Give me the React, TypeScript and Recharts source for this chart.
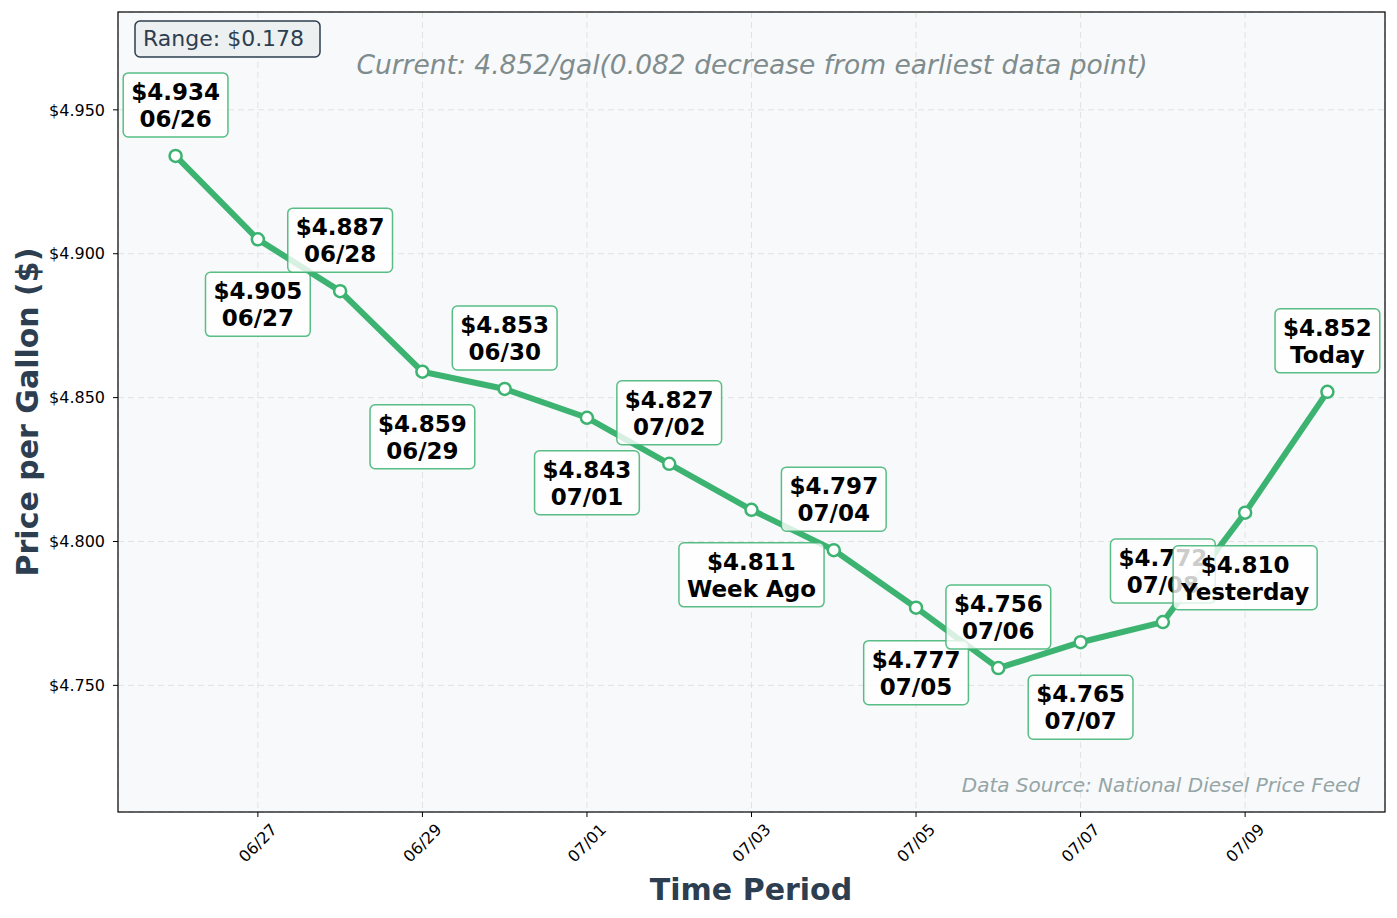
import { LineChart, Line, XAxis, YAxis, CartesianGrid } from 'recharts';

const dates = ['06/26', '06/27', '06/28', '06/29', '06/30', '07/01', '07/02', '07/03', '07/04', '07/05', '07/06', '07/07', '07/08', '07/09', '07/10'];
const prices = [4.934, 4.905, 4.887, 4.859, 4.853, 4.843, 4.827, 4.811, 4.797, 4.777, 4.756, 4.765, 4.772, 4.810, 4.852];
const pointNames = ['06/26', '06/27', '06/28', '06/29', '06/30', '07/01', '07/02', 'Week Ago', '07/04', '07/05', '07/06', '07/07', '07/08', 'Yesterday', 'Today'];
const xTicks = [1, 3, 5, 7, 9, 11, 13];
const yTicks = [4.75, 4.8, 4.85, 4.9, 4.95];

const data = prices.map((price, i) => ({ day: i, price, date: dates[i], name: pointNames[i] }));

const W = 1397;
const H = 918;
const PLOT = { left: 118, top: 12, right: 1385, bottom: 812 };
const GREEN = '#3cb371';
const FONT = 'DejaVu Sans';

const first = prices[0];
const last = prices[prices.length - 1];
const range = Math.max(...prices) - Math.min(...prices);
const change = last - first;

let measureCtx: CanvasRenderingContext2D | null = null;
function textWidth(s: string, font: string) {
  if (!measureCtx) measureCtx = document.createElement('canvas').getContext('2d');
  if (!measureCtx) return s.length * 14;
  measureCtx.font = font;
  return measureCtx.measureText(s).width;
}

const Marker = (props: any) => {
  const { cx, cy, index } = props;
  return <circle key={`m${index}`} cx={cx} cy={cy} r={6} fill="#fff" stroke={GREEN} strokeWidth={2.5} />;
};

// value/date callout boxes, alternating above and below the points
const Callout = (props: any) => {
  const { cx, cy, index } = props;
  const line1 = `$${prices[index].toFixed(3)}`;
  const line2 = pointNames[index];
  const size = 23;
  const font = `bold ${size}px "${FONT}"`;
  const w = Math.max(textWidth(line1, font), textWidth(line2, font)) + 16;
  const h = 64;
  const centerY = index % 2 === 0 ? cy - 51 : cy + 65;
  return (
    <g key={`c${index}`}>
      <rect x={cx - w / 2} y={centerY - h / 2} width={w} height={h} rx={5} fill="#fff" fillOpacity={0.8} stroke={GREEN} strokeOpacity={0.85} strokeWidth={1.5} />
      <text x={cx} y={centerY - 13} textAnchor="middle" dominantBaseline="central" fontFamily={FONT} fontWeight="bold" fontSize={size} fill="#000">{line1}</text>
      <text x={cx} y={centerY + 14} textAnchor="middle" dominantBaseline="central" fontFamily={FONT} fontWeight="bold" fontSize={size} fill="#000">{line2}</text>
    </g>
  );
};

const DateTick = (props: any) => {
  const { x, payload } = props;
  return (
    <g transform={`translate(${x},${PLOT.bottom + 31}) rotate(-45)`}>
      <text textAnchor="middle" dominantBaseline="central" fontFamily={FONT} fontSize={16} fill="#000">{dates[payload.value]}</text>
    </g>
  );
};

export default function App() {
  return (
    <div style={{ position: 'absolute', left: 0, top: 0, width: W, height: H, background: '#fff', fontFamily: FONT }}>
      <LineChart width={W} height={H} data={data} margin={{ top: PLOT.top, right: W - PLOT.right, bottom: 0, left: 0 }}>
        <CartesianGrid fill="#f8f9fa" stroke="#e2e2e2" strokeDasharray="6 4" />
        <XAxis
          type="number"
          dataKey="day"
          domain={[-0.7, 14.7]}
          ticks={xTicks}
          allowDataOverflow
          height={H - PLOT.bottom}
          axisLine={false}
          tickSize={5}
          tickLine={{ stroke: '#000' }}
          tick={<DateTick />}
          interval={0}
        />
        <YAxis
          type="number"
          domain={[4.706, 4.984]}
          ticks={yTicks}
          allowDataOverflow
          width={PLOT.left}
          axisLine={false}
          tickSize={5}
          tickMargin={8}
          tickLine={{ stroke: '#000' }}
          tick={{ fill: '#000', fontSize: 16, fontFamily: FONT }}
          tickFormatter={(v: number) => `$${v.toFixed(3)}`}
        />
        <Line dataKey="price" stroke={GREEN} strokeWidth={6} dot={<Marker />} activeDot={false} isAnimationActive={false} />
        <Line dataKey="price" stroke="none" dot={<Callout />} activeDot={false} isAnimationActive={false} />
      </LineChart>
      <svg width={W} height={H} style={{ position: 'absolute', left: 0, top: 0, pointerEvents: 'none' }}>
        <rect x={PLOT.left} y={PLOT.top} width={PLOT.right - PLOT.left} height={PLOT.bottom - PLOT.top} fill="none" stroke="#000" strokeWidth={1.2} />
        <rect x={135} y={21} width={185} height={36} rx={5} fill="#ecf0f1" stroke="#2c3e50" strokeWidth={1.5} />
        <text x={143} y={46} fontFamily={FONT} fontSize={22} fill="#2c3e50">{`Range: $${range.toFixed(3)}`}</text>
        <text x={752} y={74} textAnchor="middle" fontFamily={FONT} fontStyle="italic" fontSize={26.5} fill="#7f8c8d">
          {`Current: ${last.toFixed(3)}/gal(${Math.abs(change).toFixed(3)} ${change < 0 ? 'decrease' : 'increase'} from earliest data point)`}
        </text>
        <text x={1360} y={792} textAnchor="end" fontFamily={FONT} fontStyle="italic" fontSize={20} fill="#95a5a6">Data Source: National Diesel Price Feed</text>
        <text x={751} y={889} textAnchor="middle" dominantBaseline="central" fontFamily={FONT} fontWeight="bold" fontSize={30} fill="#2c3e50">Time Period</text>
        <text transform="translate(27,412) rotate(-90)" textAnchor="middle" dominantBaseline="central" fontFamily={FONT} fontWeight="bold" fontSize={30} fill="#2c3e50">Price per Gallon ($)</text>
      </svg>
    </div>
  );
}
